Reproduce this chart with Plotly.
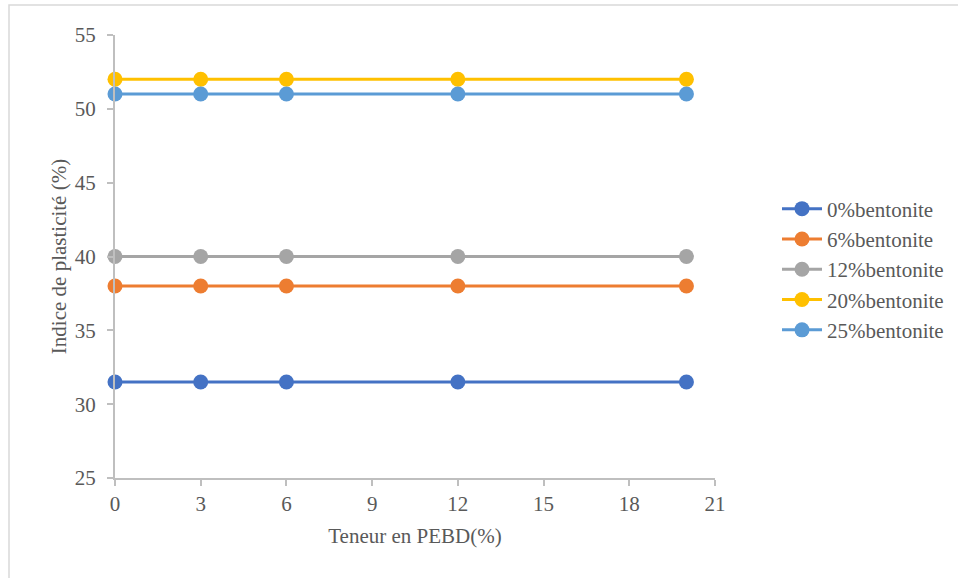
import plotly.graph_objects as go

x_pebd = [0, 3, 6, 12, 20]
series_names = ["0%bentonite", "6%bentonite", "12%bentonite", "20%bentonite", "25%bentonite"]
ip_0 = [31.5, 31.5, 31.5, 31.5, 31.5]
ip_6 = [38, 38, 38, 38, 38]
ip_12 = [40, 40, 40, 40, 40]
ip_20 = [52, 52, 52, 52, 52]
ip_25 = [51, 51, 51, 51, 51]
x_ticks = [0, 3, 6, 9, 12, 15, 18, 21]
y_ticks = [25, 30, 35, 40, 45, 50, 55]
colors = ["#4472C4", "#ED7D31", "#A5A5A5", "#FFC000", "#5B9BD5"]

FAM = "Liberation Serif"
GREY = "#595959"
FS = 21

fig = go.Figure()
for name, ys, c in zip(series_names, [ip_0, ip_6, ip_12, ip_20, ip_25], colors):
    fig.add_trace(go.Scatter(x=x_pebd, y=ys, name=name, mode="lines+markers",
                             line=dict(color=c, width=3),
                             marker=dict(color=c, size=15),
                             cliponaxis=False))

fig.update_layout(
    width=958, height=578,
    paper_bgcolor="white", plot_bgcolor="white",
    margin=dict(l=115, r=243, t=35, b=100, autoexpand=False),
    font=dict(family=FAM, size=FS, color=GREY),
    showlegend=True,
    legend=dict(x=(777 - 115) / 600, y=(478 - 269.5) / 443, xanchor="left", yanchor="middle",
                font=dict(family=FAM, size=FS, color=GREY),
                tracegroupgap=0, itemwidth=40),
    xaxis=dict(range=[0, 21], tickvals=x_ticks,
               showgrid=False, zeroline=False, showline=True, linecolor="#BFBFBF", linewidth=2,
               ticks="outside", ticklen=6, tickcolor="#BFBFBF", tickwidth=2,
               ticklabelstandoff=0,
               tickfont=dict(family=FAM, size=FS, color=GREY),
               title=dict(text="Teneur en PEBD(%)", standoff=13,
                          font=dict(family=FAM, size=FS, color=GREY))),
    yaxis=dict(range=[25, 55], tickvals=y_ticks,
               showgrid=False, zeroline=False, showline=True, linecolor="#BFBFBF", linewidth=2,
               ticks="outside", ticklen=6, tickcolor="#BFBFBF", tickwidth=2,
               ticklabelstandoff=7,
               tickfont=dict(family=FAM, size=FS, color=GREY),
               title=dict(text="Indice de plasticité (%)", standoff=2,
                          font=dict(family=FAM, size=FS, color=GREY))),
    shapes=[dict(type="rect", xref="paper", yref="paper",
                 x0=-106 / 600, x1=(970 - 115) / 600, y0=-(590 - 478) / 443, y1=1 + (35 - 5) / 443,
                 line=dict(color="#D9D9D9", width=1.5), fillcolor="rgba(0,0,0,0)", layer="below")],
)
fig.write_html("out.html", config={"displayModeBar": False},
               post_script="document.body.style.margin='0';")
